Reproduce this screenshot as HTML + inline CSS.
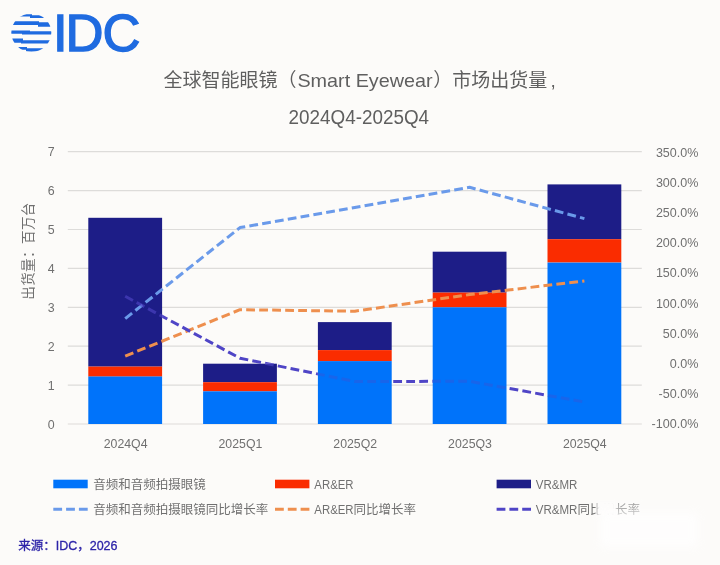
<!DOCTYPE html>
<html lang="zh-CN">
<head>
<meta charset="utf-8">
<title>全球智能眼镜（Smart Eyewear）市场出货量, 2024Q4-2025Q4</title>
<style>
html,body{margin:0;padding:0;background:#fcfbf9;}
body{width:720px;height:565px;overflow:hidden;font-family:"Liberation Sans", "Noto Sans CJK SC", sans-serif;}
svg{display:block;}
text{font-family:"Liberation Sans", "Noto Sans CJK SC", sans-serif;}
</style>
</head>
<body>
<svg width="720" height="565" viewBox="0 0 720 565">
<rect width="720" height="565" fill="#fcfbf9"/>
<defs><clipPath id="globe"><ellipse cx="31.3" cy="32.7" rx="20" ry="19.2"/></clipPath></defs>
<g clip-path="url(#globe)" fill="#1f6be0">
<path d="M10,14.3 L32,14.3 L32,15.3 L55,15.3 L55,18 L30,18 L30,16.5 L10,16.5 Z"/>
<path d="M10,21.3 L39,21.3 L39,22.2 L55,22.2 L55,26.8 L38,26.8 L38,24.9 L10,24.9 Z"/>
<path d="M10,30.5 L30,30.5 L30,31.2 L55,31.2 L55,34.5 L22,34.5 L22,33.8 L10,33.8 Z"/>
<path d="M10,38.5 L23,38.5 L23,40.2 L55,40.2 L55,43.4 L21,43.4 L21,42.7 L10,42.7 Z"/>
<path d="M10,46.9 L27,46.9 L27,48.2 L55,48.2 L55,51.6 L26,51.6 L26,49.7 L10,49.7 Z"/>
</g>
<text x="53.1 65.6 102.4" y="50.9" font-size="52.6" fill="#1f6be0" stroke="#1f6be0" stroke-width="1.4">IDC</text>
<text y="87.2" font-size="19" fill="#5f5f5f"><tspan x="163.6">全球智能眼镜（</tspan><tspan x="297.4" textLength="135.2" lengthAdjust="spacingAndGlyphs">Smart Eyewear</tspan><tspan x="433.2">）市场出货量</tspan><tspan dx="3.2">,</tspan></text>
<text x="358.8" y="123.8" font-size="19.4" fill="#5f5f5f" text-anchor="middle" textLength="140.5" lengthAdjust="spacingAndGlyphs">2024Q4-2025Q4</text>
<line x1="67.8" x2="641.8" y1="424.0" y2="424.0" stroke="#dddcda" stroke-width="1.2"/>
<text x="47.7" y="428.5" font-size="12.9" fill="#707070" textLength="6.9" lengthAdjust="spacingAndGlyphs">0</text>
<line x1="67.8" x2="641.8" y1="385.1" y2="385.1" stroke="#dddcda" stroke-width="1.2"/>
<text x="47.7" y="389.6" font-size="12.9" fill="#707070" textLength="6.9" lengthAdjust="spacingAndGlyphs">1</text>
<line x1="67.8" x2="641.8" y1="346.2" y2="346.2" stroke="#dddcda" stroke-width="1.2"/>
<text x="47.7" y="350.7" font-size="12.9" fill="#707070" textLength="6.9" lengthAdjust="spacingAndGlyphs">2</text>
<line x1="67.8" x2="641.8" y1="307.3" y2="307.3" stroke="#dddcda" stroke-width="1.2"/>
<text x="47.7" y="311.8" font-size="12.9" fill="#707070" textLength="6.9" lengthAdjust="spacingAndGlyphs">3</text>
<line x1="67.8" x2="641.8" y1="268.4" y2="268.4" stroke="#dddcda" stroke-width="1.2"/>
<text x="47.7" y="272.9" font-size="12.9" fill="#707070" textLength="6.9" lengthAdjust="spacingAndGlyphs">4</text>
<line x1="67.8" x2="641.8" y1="229.5" y2="229.5" stroke="#dddcda" stroke-width="1.2"/>
<text x="47.7" y="234.0" font-size="12.9" fill="#707070" textLength="6.9" lengthAdjust="spacingAndGlyphs">5</text>
<line x1="67.8" x2="641.8" y1="190.6" y2="190.6" stroke="#dddcda" stroke-width="1.2"/>
<text x="47.7" y="195.1" font-size="12.9" fill="#707070" textLength="6.9" lengthAdjust="spacingAndGlyphs">6</text>
<line x1="67.8" x2="641.8" y1="151.7" y2="151.7" stroke="#dddcda" stroke-width="1.2"/>
<text x="47.7" y="156.2" font-size="12.9" fill="#707070" textLength="6.9" lengthAdjust="spacingAndGlyphs">7</text>
<text x="651.6" y="428.4" font-size="12.9" fill="#707070" textLength="46.8" lengthAdjust="spacingAndGlyphs">-100.0%</text>
<text x="658.5" y="398.2" font-size="12.9" fill="#707070" textLength="39.9" lengthAdjust="spacingAndGlyphs">-50.0%</text>
<text x="669.7" y="368.0" font-size="12.9" fill="#707070" textLength="28.7" lengthAdjust="spacingAndGlyphs">0.0%</text>
<text x="662.8" y="337.8" font-size="12.9" fill="#707070" textLength="35.6" lengthAdjust="spacingAndGlyphs">50.0%</text>
<text x="655.9" y="307.6" font-size="12.9" fill="#707070" textLength="42.5" lengthAdjust="spacingAndGlyphs">100.0%</text>
<text x="655.9" y="277.4" font-size="12.9" fill="#707070" textLength="42.5" lengthAdjust="spacingAndGlyphs">150.0%</text>
<text x="655.9" y="247.2" font-size="12.9" fill="#707070" textLength="42.5" lengthAdjust="spacingAndGlyphs">200.0%</text>
<text x="655.9" y="217.0" font-size="12.9" fill="#707070" textLength="42.5" lengthAdjust="spacingAndGlyphs">250.0%</text>
<text x="655.9" y="186.8" font-size="12.9" fill="#707070" textLength="42.5" lengthAdjust="spacingAndGlyphs">300.0%</text>
<text x="655.9" y="156.6" font-size="12.9" fill="#707070" textLength="42.5" lengthAdjust="spacingAndGlyphs">350.0%</text>
<text transform="translate(32.8,251) rotate(-90)" font-size="13.6" letter-spacing="0.35" fill="#707070" text-anchor="middle">出货量：百万台</text>
<rect x="88.3" y="217.8" width="73.8" height="148.8" fill="#1d1d87"/><rect x="88.3" y="366.6" width="73.8" height="10.0" fill="#fa2c00"/><rect x="88.3" y="376.5" width="73.8" height="47.5" fill="#0073fa"/>
<text x="103.7" y="448.4" font-size="12.9" fill="#707070" textLength="43.8" lengthAdjust="spacingAndGlyphs">2024Q4</text>
<rect x="203.1" y="363.7" width="73.8" height="18.5" fill="#1d1d87"/><rect x="203.1" y="382.2" width="73.8" height="9.1" fill="#fa2c00"/><rect x="203.1" y="391.3" width="73.8" height="32.7" fill="#0073fa"/>
<text x="218.5" y="448.4" font-size="12.9" fill="#707070" textLength="43.8" lengthAdjust="spacingAndGlyphs">2025Q1</text>
<rect x="317.9" y="322.1" width="73.8" height="28.0" fill="#1d1d87"/><rect x="317.9" y="350.1" width="73.8" height="11.0" fill="#fa2c00"/><rect x="317.9" y="361.1" width="73.8" height="62.9" fill="#0073fa"/>
<text x="333.3" y="448.4" font-size="12.9" fill="#707070" textLength="43.8" lengthAdjust="spacingAndGlyphs">2025Q2</text>
<rect x="432.7" y="251.7" width="73.8" height="40.9" fill="#1d1d87"/><rect x="432.7" y="292.6" width="73.8" height="14.7" fill="#fa2c00"/><rect x="432.7" y="307.3" width="73.8" height="116.7" fill="#0073fa"/>
<text x="448.1" y="448.4" font-size="12.9" fill="#707070" textLength="43.8" lengthAdjust="spacingAndGlyphs">2025Q3</text>
<rect x="547.5" y="184.4" width="73.8" height="54.8" fill="#1d1d87"/><rect x="547.5" y="239.2" width="73.8" height="23.3" fill="#fa2c00"/><rect x="547.5" y="262.6" width="73.8" height="161.4" fill="#0073fa"/>
<text x="562.9" y="448.4" font-size="12.9" fill="#707070" textLength="43.8" lengthAdjust="spacingAndGlyphs">2025Q4</text>
<defs><clipPath id="innavy"><path d="M88.3,217.8h73.8V376.5h-73.8Z M203.1,363.7h73.8V391.3h-73.8Z M317.9,322.1h73.8V361.1h-73.8Z M432.7,251.7h73.8V307.3h-73.8Z M547.5,184.4h73.8V262.6h-73.8Z"/></clipPath><clipPath id="inblue"><path d="M88.3,376.5h73.8V424.0h-73.8Z M203.1,391.3h73.8V424.0h-73.8Z M317.9,361.1h73.8V424.0h-73.8Z M432.7,307.3h73.8V424.0h-73.8Z M547.5,262.6h73.8V424.0h-73.8Z"/></clipPath><clipPath id="outbars"><path clip-rule="evenodd" d="M0,0H720V565H0Z M88.3,217.8h73.8V424.0h-73.8Z M203.1,363.7h73.8V424.0h-73.8Z M317.9,322.1h73.8V424.0h-73.8Z M432.7,251.7h73.8V424.0h-73.8Z M547.5,184.4h73.8V424.0h-73.8Z"/></clipPath></defs>
<polyline points="125.2,318.6 240.0,227.6 354.8,207.4 469.6,187.3 584.4,218.6" fill="none" stroke="#6a9aea" stroke-width="3" stroke-dasharray="8.8 4.2" stroke-linejoin="round"/>
<polyline points="125.2,356.1 240.0,309.7 354.8,311.2 469.6,294.6 584.4,281.0" fill="none" stroke="#ee8f4e" stroke-width="3" stroke-dasharray="8.8 4.2" stroke-linejoin="round"/>
<polyline points="125.2,296.3 240.0,358.2 354.8,381.5 469.6,381.3 584.4,402.0" fill="none" stroke="#4f45c6" stroke-width="3" stroke-dasharray="8.8 4.2" stroke-linejoin="round" clip-path="url(#outbars)"/>
<polyline points="125.2,296.3 240.0,358.2 354.8,381.5 469.6,381.3 584.4,402.0" fill="none" stroke="#4f45c6" stroke-width="3" stroke-dasharray="8.8 4.2" stroke-linejoin="round" clip-path="url(#innavy)" opacity="0.62"/>
<polyline points="125.2,296.3 240.0,358.2 354.8,381.5 469.6,381.3 584.4,402.0" fill="none" stroke="#4f45c6" stroke-width="3" stroke-dasharray="8.8 4.2" stroke-linejoin="round" clip-path="url(#inblue)" opacity="0.3"/>
<rect x="53.3" y="479.7" width="34.4" height="8.6" fill="#0073fa"/>
<text x="93.3" y="488.6" font-size="12.5" fill="#707070">音频和音频拍摄眼镜</text>
<rect x="275" y="479.7" width="34.4" height="8.6" fill="#fa2c00"/>
<text x="314.3" y="488.6" font-size="12.5" fill="#707070"><tspan textLength="39.3" lengthAdjust="spacingAndGlyphs">AR&amp;ER</tspan></text>
<rect x="496.6" y="479.7" width="34.4" height="8.6" fill="#1d1d87"/>
<text x="535.7" y="488.6" font-size="12.5" fill="#707070"><tspan textLength="41.7" lengthAdjust="spacingAndGlyphs">VR&amp;MR</tspan></text>
<line x1="53.3" x2="87.69999999999999" y1="509.3" y2="509.3" stroke="#6a9aea" stroke-width="3" stroke-dasharray="8.8 4"/>
<text x="93.3" y="513.8" font-size="12.5" fill="#707070">音频和音频拍摄眼镜同比增长率</text>
<line x1="275" x2="309.4" y1="509.3" y2="509.3" stroke="#ee8f4e" stroke-width="3" stroke-dasharray="8.8 4"/>
<text x="314.3" y="513.8" font-size="12.5" fill="#707070"><tspan textLength="39.3" lengthAdjust="spacingAndGlyphs">AR&amp;ER</tspan>同比增长率</text>
<line x1="496.6" x2="531.0" y1="509.3" y2="509.3" stroke="#4f45c6" stroke-width="3" stroke-dasharray="8.8 4"/>
<text x="535.7" y="513.8" font-size="12.5" fill="#707070"><tspan textLength="41.7" lengthAdjust="spacingAndGlyphs">VR&amp;MR</tspan>同比增长率</text>
<defs><filter id="sm" x="-30%" y="-30%" width="160%" height="160%"><feGaussianBlur stdDeviation="1.6"/></filter><filter id="sm2" x="-30%" y="-30%" width="160%" height="160%"><feGaussianBlur stdDeviation="4"/></filter></defs>
<rect x="597" y="501" width="19" height="15.5" fill="#fdfcfb" filter="url(#sm)"/>
<rect x="615" y="501" width="26" height="16" fill="#fdfcfb" opacity="0.35" filter="url(#sm)"/>
<rect x="600" y="512" width="98" height="36" fill="#ffffff" opacity="0.7" filter="url(#sm2)"/>
<text x="18.2" y="550.2" font-size="12.5" fill="#2d24a8" stroke="#2d24a8" stroke-width="0.3">来源：IDC，2026</text>
</svg>
</body>
</html>
